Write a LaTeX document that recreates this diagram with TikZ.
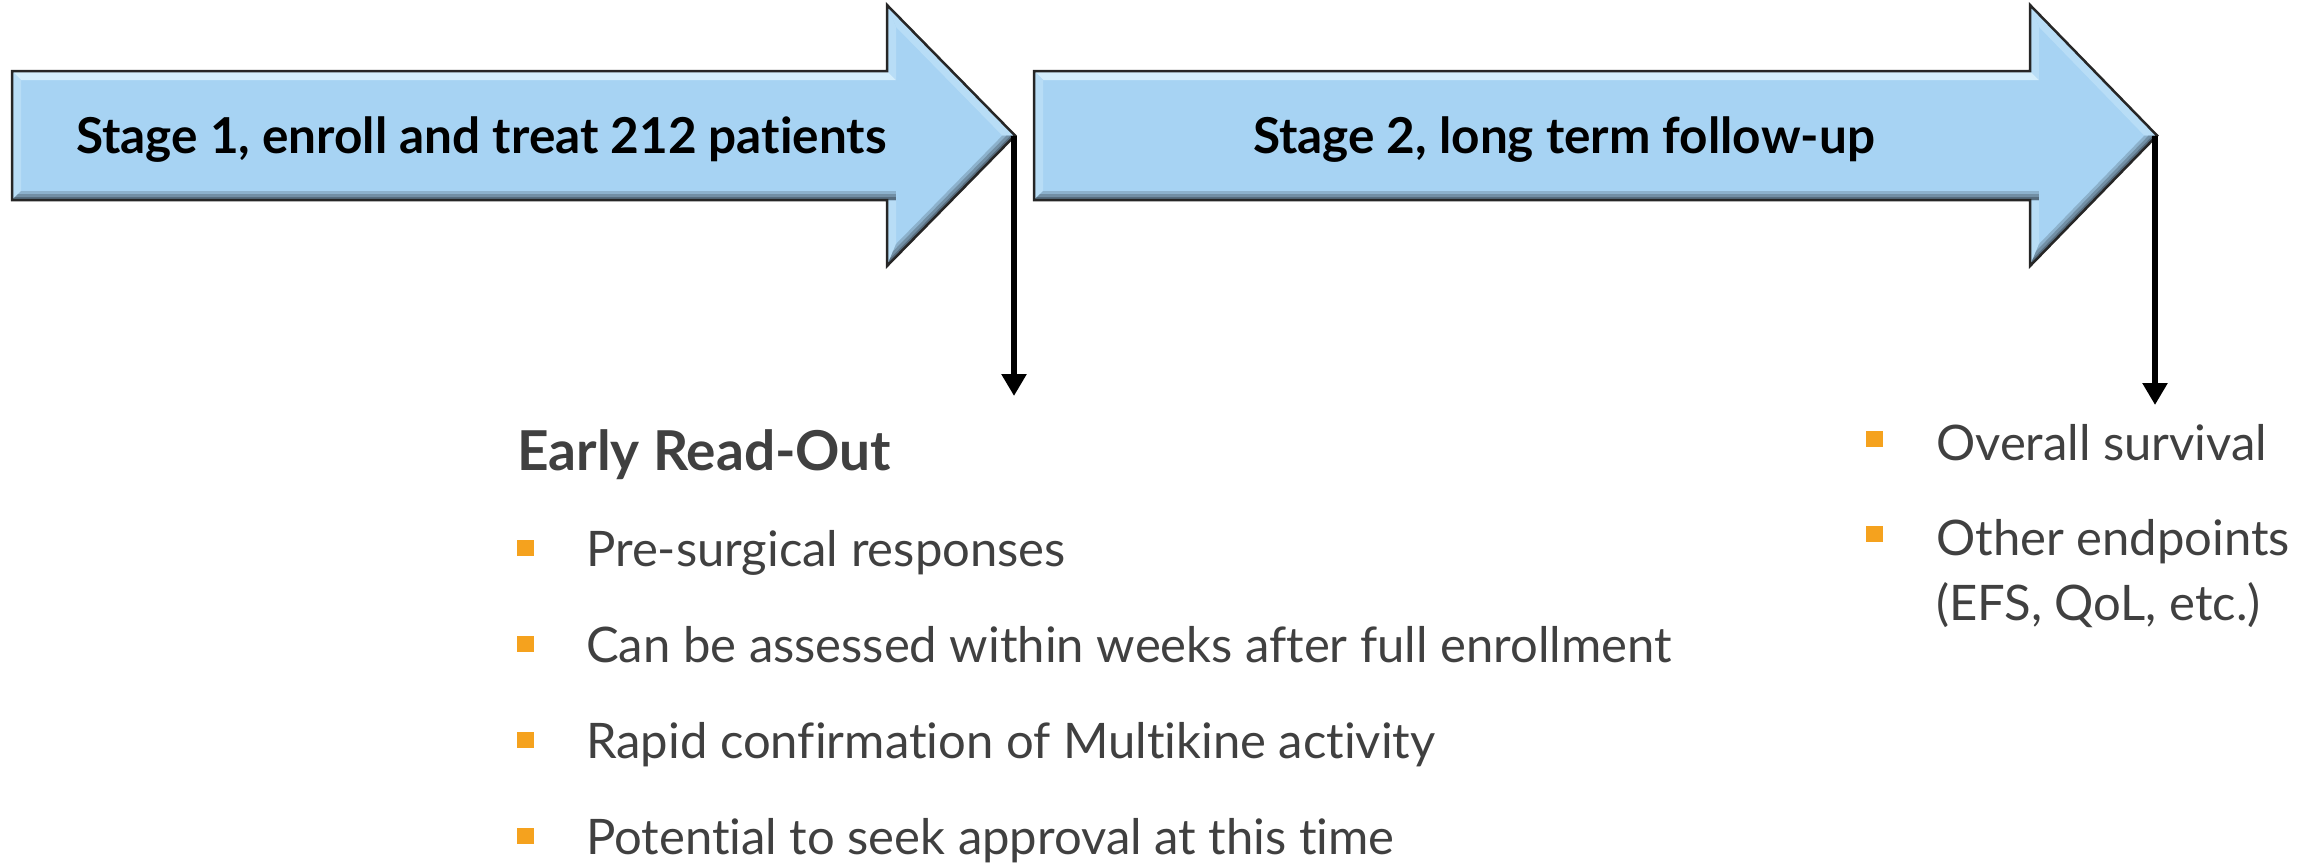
\documentclass[tikz,border=0pt]{standalone}
\usepackage{fontspec}
\setmainfont{Lato}[Ligatures=NoCommon]
\usetikzlibrary{arrows.meta}
\definecolor{arrowblue}{HTML}{A7D3F3}
\definecolor{bevlight}{HTML}{D4EEFC}
\definecolor{bevside}{HTML}{B8DDF6}
\definecolor{bevdark}{HTML}{4E6272}
\definecolor{txtgray}{HTML}{404040}
\definecolor{bulorange}{HTML}{F5A21E}
\tikzset{
  outline/.style={draw=black!85, line width=2.5pt, line join=miter},
  stagetext/.style={anchor=base, inner sep=0pt, font=\fontsize{49.5}{56}\selectfont\bfseries, text=black},
  itemtext/.style={anchor=base west, inner sep=0pt, font=\fontsize{49}{58}\selectfont, text=txtgray},
  headtext/.style={anchor=base west, inner sep=0pt, font=\fontsize{55}{62}\selectfont\bfseries, text=txtgray},
  bul/.style={fill=bulorange, minimum width=17pt, minimum height=16pt, inner sep=0pt, draw=none},
  downarrow/.style={line width=6pt, -{Triangle[width=24pt,length=22pt]}},
}
% #1 = body left x, #2 = head base x, #3 = tip x
\newcommand\bevarrow[3]{%
  \fill[arrowblue] (#1,71) -- (#2,71) -- (#2,5) -- (#3,135.5) -- (#2,266) -- (#2,200) -- (#1,200) -- cycle;
  % light strips
  \fill[bevlight] (#1,71) -- (#2,71) -- (#2+9,80) -- (#1+9,80) -- cycle;
  \fill[bevside] (#1,71) -- (#1+9,80) -- (#1+9,191) -- (#1,200) -- cycle;
  \fill[bevside] (#2,71) -- (#2,5) -- (#2+9,27) -- (#2+9,80) -- cycle;
  \fill[bevside] (#2,5) -- (#3,135.5) -- (#3-12.7,135.5) -- (#2+9,27) -- cycle;
  \fill[bevside] (#2,266) -- (#2,200) -- (#2+9,191) -- (#2+9,244) -- cycle;
  % dark strips
  \begin{scope}
    \clip (#3,135.5) -- (#2,266) -- (#2+9,244) -- (#3-12.7,135.5) -- cycle;
    \draw[line width=18pt, arrowblue!70!bevdark] (#3,135.5) -- (#2,266);
    \draw[line width=12pt, arrowblue!40!bevdark] (#3,135.5) -- (#2,266);
    \draw[line width=6pt, arrowblue!10!bevdark] (#3,135.5) -- (#2,266);
  \end{scope}
  \begin{scope}
    \clip (#2+9,200) -- (#1,200) -- (#1+9,191) -- (#2+9,191) -- cycle;
    \draw[line width=18pt, arrowblue!70!bevdark] (#1,200) -- (#2+9,200);
    \draw[line width=12pt, arrowblue!40!bevdark] (#1,200) -- (#2+9,200);
    \draw[line width=6pt, arrowblue!10!bevdark] (#1,200) -- (#2+9,200);
  \end{scope}
  \draw[outline] (#1,71) -- (#2,71) -- (#2,5) -- (#3,135.5) -- (#2,266) -- (#2,200) -- (#1,200) -- cycle;
}
\begin{document}
\begin{tikzpicture}[x=1pt,y=-1pt]
\useasboundingbox (0,0) rectangle (2323,865);

\bevarrow{12}{887}{1015}
\bevarrow{1034}{2030}{2157}

\node[stagetext] (stage1) at (481.5,153) {Stage 1, enroll and treat 212 patients};
\node[stagetext] (stage2) at (1564,153) {Stage 2, long term follow-up};

\coordinate (tip1) at (1014,135.5);
\coordinate (end1) at (1014,396);
\coordinate (tip2) at (2155,135.5);
\coordinate (end2) at (2155,405);
\draw[downarrow] (tip1) -- (end1);
\draw[downarrow] (tip2) -- (end2);

\node[headtext] (early) at (517,470) {Early Read-Out};
\node[bul] (b1) at (525.5,548) {};
\node[itemtext] (t1) at (586,566) {Pre-surgical responses};
\node[bul] (b2) at (525.5,644) {};
\node[itemtext] (t2) at (586,662) {Can be assessed within weeks after full enrollment};
\node[bul] (b3) at (525.5,740) {};
\node[itemtext] (t3) at (586,758) {Rapid confirmation of Multikine activity};
\node[bul] (b4) at (525.5,836) {};
\node[itemtext] (t4) at (586,854) {Potential to seek approval at this time};

\node[bul] (r1) at (1874,439) {};
\node[itemtext] (u1) at (1936,460) {Overall survival};
\node[bul] (r2) at (1874,534) {};
\node[itemtext] (u2) at (1936,555) {Other endpoints};
\node[itemtext] (u3) at (1936,620) {(EFS, QoL, etc.)};
\end{tikzpicture}
\end{document}
